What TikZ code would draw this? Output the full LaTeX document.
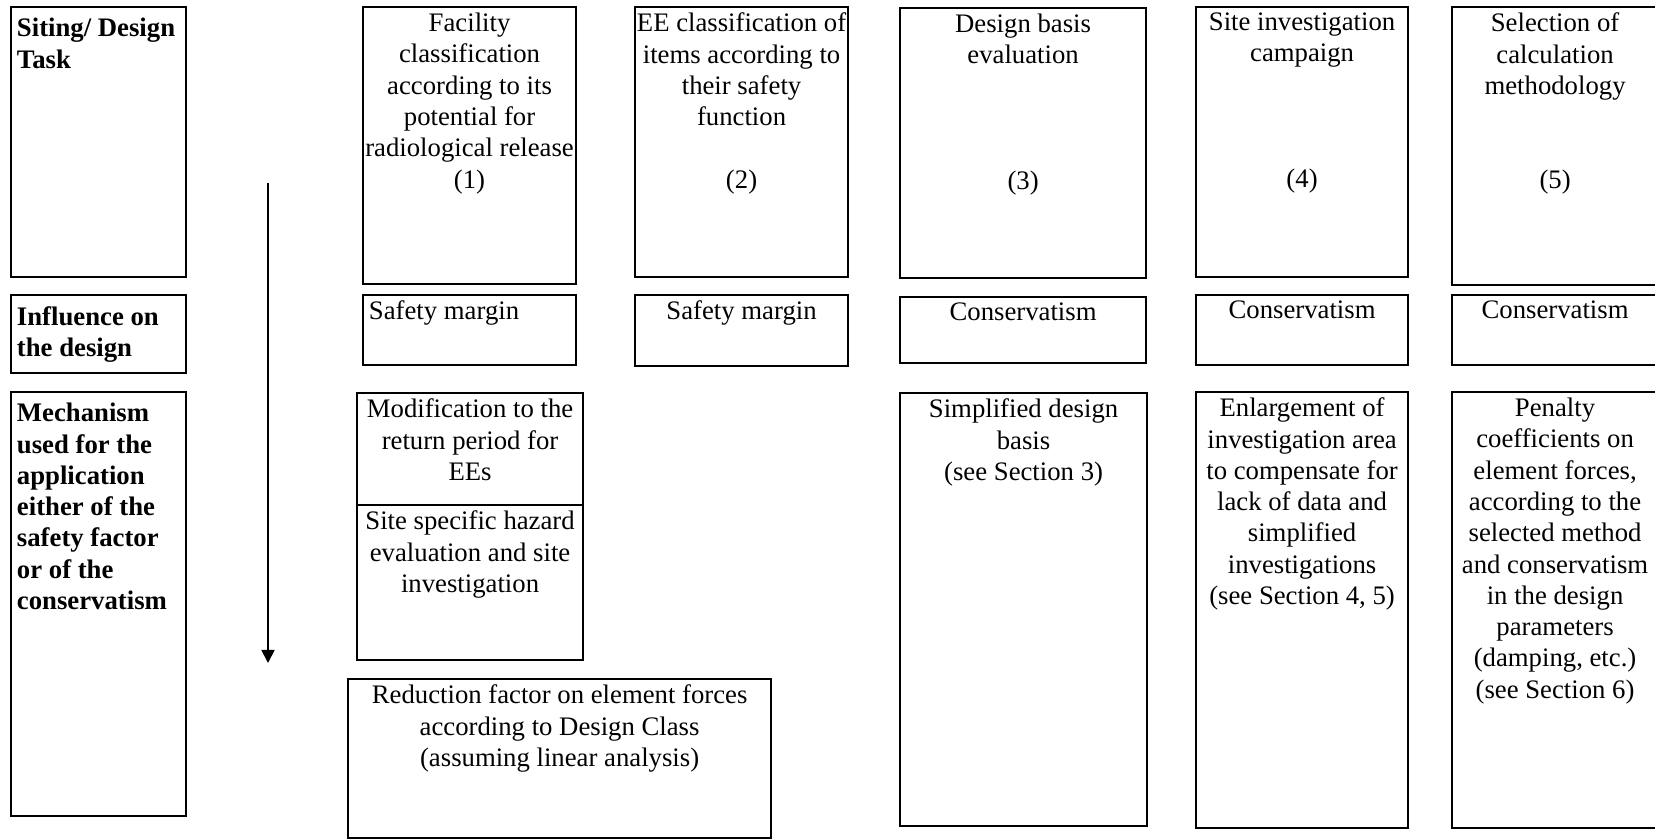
\documentclass[tikz,border=0pt]{standalone}
\usepackage{fontspec}
\setmainfont{Liberation Serif}
\usetikzlibrary{arrows.meta}

\newcommand{\cellsize}{\fontsize{7.6pt}{8.9pt}\selectfont}

\tikzset{
	cellbox/.style={draw,line width=0.6pt,anchor=north west,inner sep=0pt,outer sep=0pt},
	celltext/.style={label={[anchor=north,align=center,inner sep=1.5pt]north:{#1}}},
	lefttext/.style={label={[anchor=north west,align=left,inner sep=1.5pt]north west:{#1}}},
	headtext/.style={label={[anchor=north west,align=left,font=\cellsize\bfseries,inner xsep=1.5pt,inner ysep=3pt]north west:{#1}}},
}

\begin{document}
\begin{tikzpicture}[x=0.01cm,y=-0.01cm,font=\cellsize]
	\useasboundingbox (0,0) rectangle (1655,840);
	\node[cellbox,minimum width=1.75cm,minimum height=2.70cm,headtext={Siting/ Design\\Task}] (task) at (11,7) {};
	\node[cellbox,minimum width=1.75cm,minimum height=0.78cm,headtext={Influence on\\the design}] (influence) at (11,295) {};
	\node[cellbox,minimum width=1.75cm,minimum height=4.24cm,headtext={Mechanism\\used for the\\application\\either of the\\safety factor\\or of the\\conservatism}] (mechanism) at (11,392) {};
	\coordinate (arrtop) at (268,183);
	\coordinate (arrbot) at (268,663);
	\draw[line width=0.5pt,-{Triangle[length=1.3mm,width=1.3mm]}] (arrtop) -- (arrbot);
	\node[cellbox,minimum width=2.13cm,minimum height=2.77cm,celltext={Facility\\classification\\according to its\\potential for\\radiological release\\(1)}] (facility) at (363,7) {};
	\node[cellbox,minimum width=2.13cm,minimum height=0.70cm,lefttext={Safety margin}] (margin1) at (363,295) {};
	\node[cellbox,minimum width=2.26cm,minimum height=1.12cm,celltext={Modification to the\\return period for\\EEs}] (returnper) at (357,393) {};
	\node[cellbox,minimum width=2.26cm,minimum height=1.55cm,celltext={Site specific hazard\\evaluation and site\\investigation}] (hazard) at (357,505) {};
	\node[cellbox,minimum width=4.23cm,minimum height=1.59cm,celltext={Reduction factor on element forces\\according to Design Class\\(assuming linear analysis)}] (reduction) at (348,679) {};
	\node[cellbox,minimum width=2.13cm,minimum height=2.70cm,celltext={EE classification of\\items according to\\their safety\\function\\[8.9pt](2)}] (eeclass) at (635,7) {};
	\node[cellbox,minimum width=2.13cm,minimum height=0.71cm,celltext={Safety margin}] (margin2) at (635,295) {};
	\node[cellbox,minimum width=2.46cm,minimum height=2.70cm,celltext={Design basis\\evaluation\\[26.7pt](3)}] (basis) at (900,8) {};
	\node[cellbox,minimum width=2.46cm,minimum height=0.66cm,celltext={Conservatism}] (cons3) at (900,297) {};
	\node[cellbox,minimum width=2.47cm,minimum height=4.33cm,celltext={Simplified design\\basis\\(see Section 3)}] (simplified) at (900,393) {};
	\node[cellbox,minimum width=2.12cm,minimum height=2.70cm,celltext={Site investigation\\campaign\\[26.7pt](4)}] (campaign) at (1196,7) {};
	\node[cellbox,minimum width=2.12cm,minimum height=0.70cm,celltext={Conservatism}] (cons4) at (1196,295) {};
	\node[cellbox,minimum width=2.12cm,minimum height=4.36cm,celltext={Enlargement of\\investigation area\\to compensate for\\lack of data and\\simplified\\investigations\\(see Section 4, 5)}] (enlargement) at (1196,392) {};
	\node[cellbox,minimum width=2.06cm,minimum height=2.78cm,celltext={Selection of\\calculation\\methodology\\[17.8pt](5)}] (method) at (1452,7) {};
	\node[cellbox,minimum width=2.06cm,minimum height=0.70cm,celltext={Conservatism}] (cons5) at (1452,295) {};
	\node[cellbox,minimum width=2.06cm,minimum height=4.36cm,celltext={Penalty\\coefficients on\\element forces,\\according to the\\selected method\\and conservatism\\in the design\\parameters\\(damping, etc.)\\(see Section 6)}] (penalty) at (1452,392) {};
\end{tikzpicture}
\end{document}
